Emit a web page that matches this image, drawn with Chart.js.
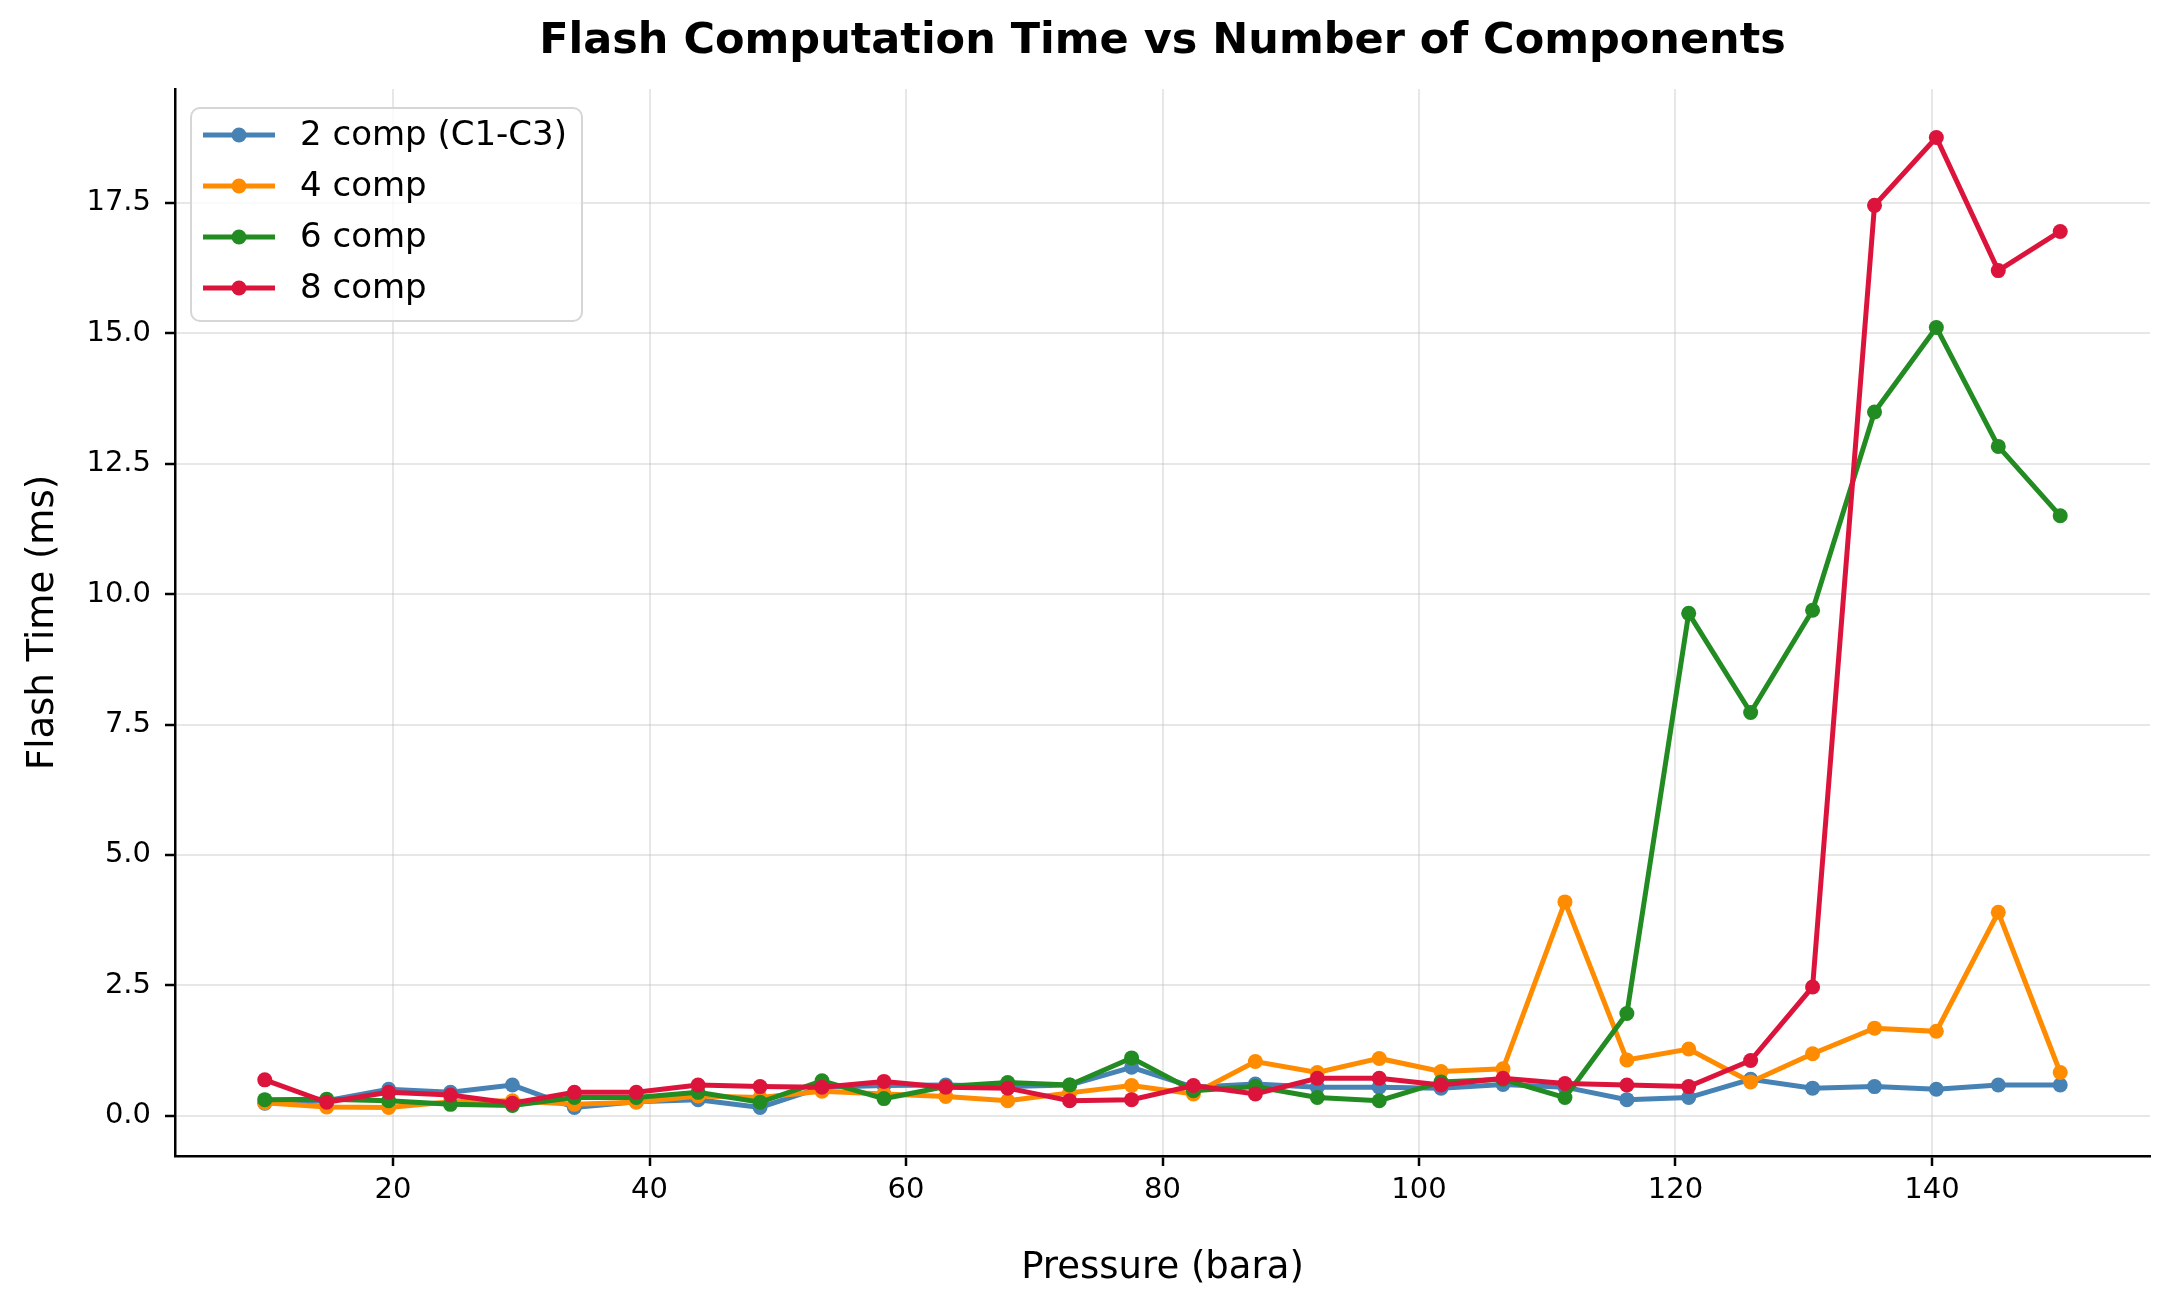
<!DOCTYPE html>
<html>
<head>
<meta charset="utf-8">
<script src="https://cdn.jsdelivr.net/npm/chart.js@4.4.1/dist/chart.umd.min.js"></script>
<style>
  html, body { margin: 0; padding: 0; background: #ffffff; }
  canvas { display: block; }
</style>
</head>
<body>
<canvas id="c" width="2171" height="1291"></canvas>
<script>
// ---- data ----
const pressure = [10.0, 14.83, 19.66, 24.48, 29.31, 34.14, 38.97, 43.79, 48.62, 53.45,
                  58.28, 63.1, 67.93, 72.76, 77.59, 82.41, 87.24, 92.07, 96.9, 101.72,
                  106.55, 111.38, 116.21, 121.03, 125.86, 130.69, 135.52, 140.34, 145.17, 150.0];
const comp2 = [0.24, 0.29, 0.51, 0.45, 0.59, 0.16, 0.27, 0.31, 0.16, 0.55,
               0.58, 0.59, 0.56, 0.59, 0.93, 0.55, 0.61, 0.55, 0.55, 0.53,
               0.60, 0.55, 0.31, 0.35, 0.70, 0.53, 0.56, 0.51, 0.59, 0.59];
const comp4 = [0.25, 0.17, 0.16, 0.27, 0.29, 0.22, 0.26, 0.38, 0.35, 0.47,
               0.42, 0.37, 0.29, 0.44, 0.58, 0.42, 1.04, 0.83, 1.10, 0.85,
               0.90, 4.10, 1.07, 1.28, 0.65, 1.19, 1.68, 1.62, 3.90, 0.83];
const comp6 = [0.31, 0.32, 0.29, 0.22, 0.20, 0.35, 0.35, 0.45, 0.26, 0.67,
               0.33, 0.56, 0.64, 0.59, 1.11, 0.48, 0.56, 0.35, 0.29, 0.65,
               0.70, 0.35, 1.96, 9.63, 7.73, 9.69, 13.49, 15.11, 12.83, 11.50];
const comp8 = [0.69, 0.26, 0.45, 0.40, 0.24, 0.45, 0.45, 0.59, 0.56, 0.55,
               0.66, 0.55, 0.53, 0.29, 0.31, 0.58, 0.42, 0.72, 0.72, 0.59,
               0.72, 0.62, 0.59, 0.56, 1.06, 2.47, 17.45, 18.75, 16.20, 16.95];
const seriesLabels = ['2 comp (C1-C3)', '4 comp', '6 comp', '8 comp'];
const seriesColors = ['#4682B4', '#FF8C00', '#228B22', '#DC143C'];
const xTicks = [20, 40, 60, 80, 100, 120, 140];
const yTicks = [0, 2.5, 5, 7.5, 10, 12.5, 15, 17.5];
const titleText = 'Flash Computation Time vs Number of Components';
const xTitle = 'Pressure (bara)';
const yTitle = 'Flash Time (ms)';

const FONT = 'DejaVu Sans';
Chart.defaults.font.family = FONT;
Chart.defaults.color = '#000';

function toXY(vals) { return vals.map((v, i) => ({ x: pressure[i], y: v })); }
const allSeries = [comp2, comp4, comp6, comp8];
const datasets = allSeries.map((vals, i) => ({
  label: seriesLabels[i],
  data: toXY(vals),
  borderColor: seriesColors[i],
  backgroundColor: seriesColors[i],
  borderWidth: 5,
  pointRadius: 7.5,
  pointBorderWidth: 0,
  pointBackgroundColor: seriesColors[i],
  tension: 0,
  order: allSeries.length - i
}));

// title centred over the plot area (as matplotlib does)
const titlePlugin = {
  id: 'axTitle',
  afterDraw(chart) {
    const ctx = chart.ctx;
    const a = chart.chartArea;
    ctx.save();
    ctx.fillStyle = '#000';
    ctx.font = 'bold 43px "' + FONT + '"';
    ctx.textAlign = 'center';
    ctx.textBaseline = 'middle';
    ctx.fillText(titleText, (a.left + a.right) / 2, 42);
    ctx.restore();
  }
};

const legendPlugin = {
  id: 'mplLegend',
  afterDraw(chart) {
    const ctx = chart.ctx;
    const x0 = 191, y0 = 108, w = 391, h = 213, r = 9;
    ctx.save();
    ctx.beginPath();
    ctx.moveTo(x0 + r, y0);
    ctx.arcTo(x0 + w, y0, x0 + w, y0 + h, r);
    ctx.arcTo(x0 + w, y0 + h, x0, y0 + h, r);
    ctx.arcTo(x0, y0 + h, x0, y0, r);
    ctx.arcTo(x0, y0, x0 + w, y0, r);
    ctx.closePath();
    ctx.fillStyle = 'rgba(255,255,255,0.8)';
    ctx.fill();
    ctx.strokeStyle = '#d6d6d6';
    ctx.lineWidth = 2;
    ctx.stroke();
    const rowY = [135, 186, 237, 288];
    chart.data.datasets.forEach((ds, i) => {
      const y = rowY[i];
      ctx.strokeStyle = ds.borderColor;
      ctx.lineWidth = 5;
      ctx.beginPath();
      ctx.moveTo(203, y);
      ctx.lineTo(275, y);
      ctx.stroke();
      ctx.fillStyle = ds.borderColor;
      ctx.beginPath();
      ctx.arc(239, y, 7.5, 0, Math.PI * 2);
      ctx.fill();
      ctx.fillStyle = '#000';
      ctx.font = '34px "' + FONT + '"';
      ctx.textAlign = 'left';
      ctx.textBaseline = 'middle';
      ctx.fillText(ds.label, 300, y + 1);
    });
    ctx.restore();
  }
};

new Chart(document.getElementById('c'), {
  type: 'line',
  data: { datasets },
  plugins: [titlePlugin, legendPlugin],
  options: {
    responsive: false,
    devicePixelRatio: 1,
    animation: false,
    layout: { padding: { left: 0, right: 21, top: 89, bottom: 0 } },
    plugins: {
      legend: { display: false },
      tooltip: { enabled: false },
      title: { display: false }
    },
    scales: {
      x: {
        type: 'linear',
        min: 3,
        max: 157,
        bounds: 'data',
        afterBuildTicks: (scale) => { scale.ticks = xTicks.map(v => ({ value: v })); },
        afterFit: (scale) => { scale.height = 135; },
        ticks: {
          color: '#000',
          font: { size: 29, family: FONT },
          padding: 7,
          maxRotation: 0,
          autoSkip: false,
          callback: (v) => String(v)
        },
        grid: {
          color: 'rgba(176,176,176,0.3)',
          lineWidth: 2,
          drawTicks: true,
          tickLength: 10,
          tickColor: '#000',
          tickWidth: 2.5
        },
        border: { display: true, color: '#000', width: 2.5 },
        title: {
          display: true,
          text: xTitle,
          color: '#000',
          font: { size: 37, family: FONT },
          padding: { top: 37, bottom: 0 }
        }
      },
      y: {
        type: 'linear',
        min: -0.77,
        max: 19.68,
        bounds: 'data',
        afterBuildTicks: (scale) => { scale.ticks = yTicks.map(v => ({ value: v })); },
        afterFit: (scale) => { scale.width = 175; },
        ticks: {
          color: '#000',
          font: { size: 29, family: FONT },
          padding: 14,
          autoSkip: false,
          callback: (v) => Number(v).toFixed(1)
        },
        grid: {
          color: 'rgba(176,176,176,0.3)',
          lineWidth: 2,
          drawTicks: true,
          tickLength: 10,
          tickColor: '#000',
          tickWidth: 2.5
        },
        border: { display: true, color: '#000', width: 2.5 },
        title: {
          display: true,
          text: yTitle,
          color: '#000',
          font: { size: 37, family: FONT },
          padding: { top: 21, bottom: 0 }
        }
      }
    }
  }
});
</script>
</body>
</html>
